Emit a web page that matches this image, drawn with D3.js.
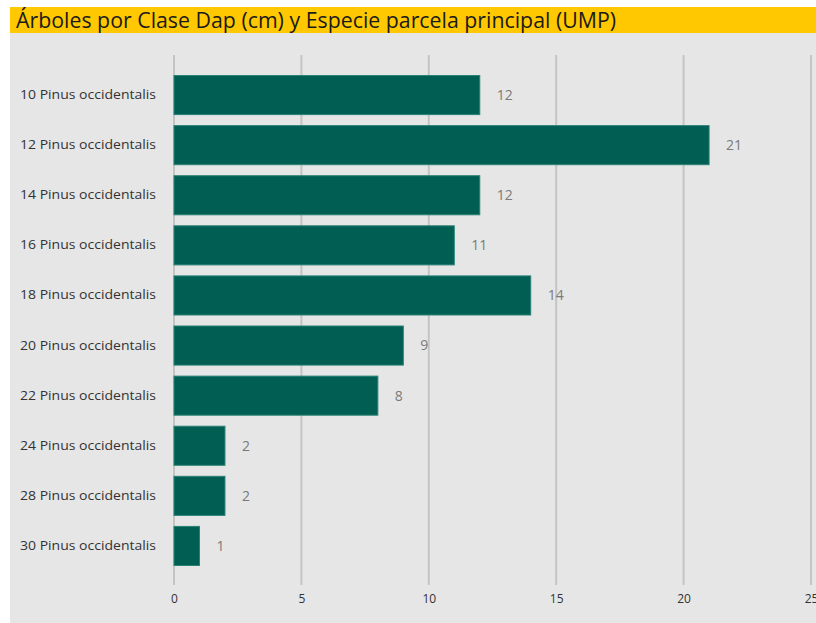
<!DOCTYPE html>
<html>
<head>
<meta charset="utf-8">
<script src="https://cdn.jsdelivr.net/npm/d3@7"></script>
<style>
body{margin:0;background:#fff;}
</style>
</head>
<body>
<svg id="chart" width="816" height="623"></svg>
<script>
const categories = ["10 Pinus occidentalis","12 Pinus occidentalis","14 Pinus occidentalis","16 Pinus occidentalis","18 Pinus occidentalis","20 Pinus occidentalis","22 Pinus occidentalis","24 Pinus occidentalis","28 Pinus occidentalis","30 Pinus occidentalis"];
const values = [12,21,12,11,14,9,8,2,2,1];
const xTicks = [0,5,10,15,20,25];
const title = "Árboles por Clase Dap (cm) y Especie parcela principal (UMP)";

const svg = d3.select("#chart");
const font = "'Open Sans', 'Noto Sans', sans-serif";

svg.append("rect").attr("x",10).attr("y",33).attr("width",806).attr("height",590).attr("fill","#e6e6e6");
svg.append("rect").attr("x",10).attr("y",7).attr("width",806).attr("height",26).attr("fill","#ffc800");
svg.append("text").attr("x",16).attr("y",28).attr("font-family",font).attr("font-size",21)
  .attr("textLength",600).attr("lengthAdjust","spacingAndGlyphs")
  .attr("fill","#1a1a1a").text(title);

const x = d3.scaleLinear().domain([0,25]).range([174,811]);
const y = d3.scaleBand().domain(categories).range([70,571]).paddingInner(0.22).paddingOuter(0.11);

const grid = svg.append("g");
grid.selectAll("line").data(xTicks).join("line")
  .attr("x1",d=>x(d)).attr("x2",d=>x(d)).attr("y1",55).attr("y2",585)
  .attr("stroke","#c4c4c4").attr("stroke-width",2);

const xAxis = svg.append("g").attr("transform","translate(0,585)")
  .call(d3.axisBottom(x).tickValues(xTicks).tickSize(0).tickPadding(9).tickFormat(d3.format("d")));
xAxis.select(".domain").remove();
xAxis.selectAll("text").attr("font-family",font).attr("font-size",12).attr("fill","#333");

const yAxis = svg.append("g").attr("transform","translate(156,0)")
  .call(d3.axisLeft(y).tickSize(0).tickPadding(0));
yAxis.select(".domain").remove();
yAxis.selectAll("text").attr("font-family",font).attr("font-size",12.5).attr("fill","#333")
  .attr("textLength",136).attr("lengthAdjust","spacingAndGlyphs");

svg.append("g").selectAll("rect").data(values).join("rect")
  .attr("x",x(0)).attr("y",(d,i)=>y(categories[i]))
  .attr("width",d=>x(d)-x(0)).attr("height",y.bandwidth())
  .attr("fill","#005e52").attr("stroke","#2a8276").attr("stroke-width",1);

svg.append("g").selectAll("text").data(values).join("text")
  .attr("x",d=>x(d)+17).attr("y",(d,i)=>y(categories[i])+y.bandwidth()/2)
  .attr("dy","0.35em").attr("font-family",font).attr("font-size",14).attr("fill","#7a7a7a")
  .text(d=>d);
</script>
</body>
</html>
